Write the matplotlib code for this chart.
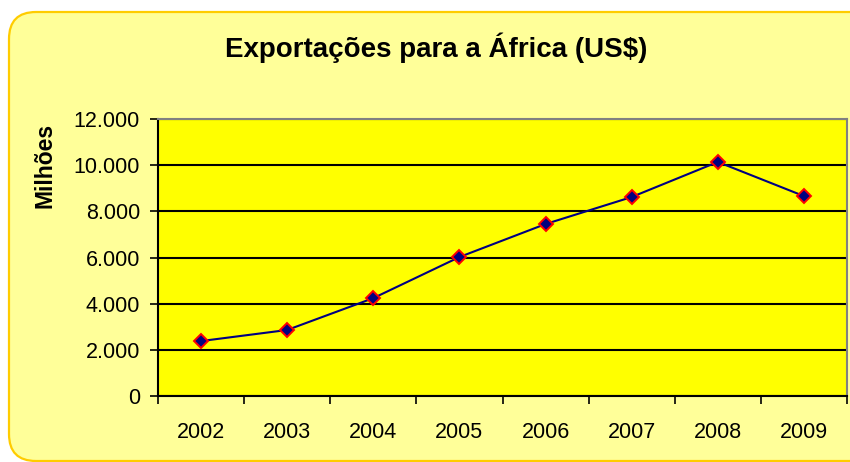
import matplotlib
matplotlib.use("Agg")
import matplotlib.pyplot as plt
from matplotlib.patches import FancyBboxPatch
from matplotlib.ticker import FuncFormatter, FixedLocator

years = ["2002", "2003", "2004", "2005", "2006", "2007", "2008", "2009"]
values = [2380, 2860, 4240, 6020, 7450, 8620, 10140, 8660]
yticks = [0, 2000, 4000, 6000, 8000, 10000, 12000]

plt.rcParams['font.family'] = ['Liberation Sans', 'DejaVu Sans']

W, H = 850, 462
fig = plt.figure(figsize=(W / 100, H / 100), dpi=100)
fig.patch.set_facecolor("white")

# rounded background box (inches)
box = FancyBboxPatch((9 / 100, 1 / 100), (W + 20) / 100, (H - 13) / 100,
                     boxstyle="round,pad=0,rounding_size=0.27",
                     transform=fig.dpi_scale_trans, facecolor="#FFFF99",
                     edgecolor="#FFCC00", linewidth=1.6, zorder=-5)
fig.patches.append(box)

ax = fig.add_axes([158 / W, (H - 396) / H, (847 - 158) / W, (396 - 119) / H])
ax.set_zorder(2)
ax.set_facecolor("#FFFF00")

x = list(range(len(years)))
ax.plot(x, values, color="#000080", linewidth=1.5, marker="D", markersize=7.5,
        markerfacecolor="#000080", markeredgecolor="#FF0000", markeredgewidth=1.4,
        zorder=3)

ax.set_xlim(-0.5, len(years) - 0.5)
ax.set_ylim(0, 12000)
ax.set_yticks(yticks)
ax.yaxis.set_major_formatter(FuncFormatter(lambda v, p: f"{int(v):,}".replace(",", ".")))
ax.grid(axis="y", color="black", linewidth=1.5)
ax.set_axisbelow(True)

ax.set_xticks(x)
ax.set_xticklabels(years)
ax.xaxis.set_minor_locator(FixedLocator([i - 0.5 for i in range(len(years) + 1)]))
ax.tick_params(axis="x", which="major", length=0, pad=19, labelsize=15.5)
ax.tick_params(axis="x", which="minor", length=6, width=1.2, color="black")
ax.tick_params(axis="y", length=6, width=1.2, pad=7, labelsize=15.5)

for s in ["left", "bottom"]:
    ax.spines[s].set_color("black")
    ax.spines[s].set_linewidth(1.5)
for s in ["top", "right"]:
    ax.spines[s].set_color("#808080")
    ax.spines[s].set_linewidth(1.5)

fig.text(436 / W, 1 - 48 / H, "Exportações para a África (US$)", ha="center",
         va="center", fontsize=20, fontweight="bold", zorder=3)
fig.text(45 / W, 1 - 165 / H, "Milhões", ha="center", va="center",
         rotation=90, fontsize=16.5, fontweight="bold", zorder=3)

fig.savefig("out.png", dpi=100, facecolor="white")
